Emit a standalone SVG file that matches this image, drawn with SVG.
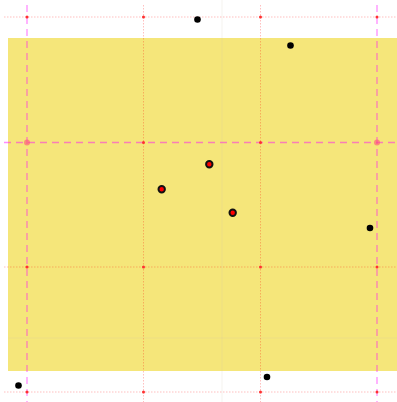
<svg xmlns="http://www.w3.org/2000/svg" width="397" height="402" viewBox="0 0 397 402">
<style>
.dot{stroke:rgba(255,0,0,0.25);stroke-width:1;stroke-dasharray:1.5,1.5;fill:none}
.dash{stroke:rgba(255,0,255,0.45);stroke-width:1.3;stroke-dasharray:7,5;fill:none}
.faint{stroke:rgba(200,190,170,0.2);stroke-width:1;fill:none}
.pt{fill:#000}
.sel{fill:#ff0000;stroke:#111;stroke-width:2}
.ix{fill:#ff3030}
.ixb{fill:rgba(255,80,120,0.6)}
</style>
<rect x="8" y="38" width="392" height="333" fill="#f5e67a"/>
<g id="grid">
<line class="faint" x1="222" y1="0" x2="222" y2="402"/>
<line class="faint" x1="8" y1="338" x2="397" y2="338"/>
<line class="dot" x1="4" y1="17" x2="397" y2="17"/>
<line class="dot" x1="4" y1="267" x2="397" y2="267"/>
<line class="dot" x1="4" y1="392" x2="397" y2="392"/>
<line class="dot" x1="143.5" y1="5" x2="143.5" y2="402"/>
<line class="dot" x1="260.5" y1="5" x2="260.5" y2="402"/>
<line class="dash" x1="4" y1="142.5" x2="397" y2="142.5"/>
<line class="dash" x1="27" y1="5" x2="27" y2="402"/>
<line class="dash" x1="377" y1="5" x2="377" y2="402"/>
</g>
<g id="intersections">
<circle class="ix" cx="27" cy="17" r="1.5"/>
<circle class="ix" cx="143.5" cy="17" r="1.5"/>
<circle class="ix" cx="260.5" cy="17" r="1.5"/>
<circle class="ix" cx="377" cy="17" r="1.5"/>
<circle class="ixb" cx="27" cy="142.5" r="3"/>
<circle class="ix" cx="143.5" cy="142.5" r="1.5"/>
<circle class="ix" cx="260.5" cy="142.5" r="1.5"/>
<circle class="ixb" cx="377" cy="142.5" r="3"/>
<circle class="ix" cx="27" cy="267" r="1.5"/>
<circle class="ix" cx="143.5" cy="267" r="1.5"/>
<circle class="ix" cx="260.5" cy="267" r="1.5"/>
<circle class="ix" cx="377" cy="267" r="1.5"/>
<circle class="ix" cx="27" cy="392" r="1.5"/>
<circle class="ix" cx="143.5" cy="392" r="1.5"/>
<circle class="ix" cx="260.5" cy="392" r="1.5"/>
<circle class="ix" cx="377" cy="392" r="1.5"/>
</g>
<g id="points">
<circle class="pt" cx="197.5" cy="19.5" r="3.3"/>
<circle class="pt" cx="290.5" cy="45.5" r="3.3"/>
<circle class="pt" cx="370" cy="228" r="3.3"/>
<circle class="pt" cx="18.5" cy="385.5" r="3.3"/>
<circle class="pt" cx="267" cy="377" r="3.3"/>
<circle class="sel" cx="209.3" cy="164.3" r="3.2"/>
<circle class="sel" cx="161.7" cy="189.3" r="3.2"/>
<circle class="sel" cx="232.7" cy="212.7" r="3.2"/>
</g>
</svg>
